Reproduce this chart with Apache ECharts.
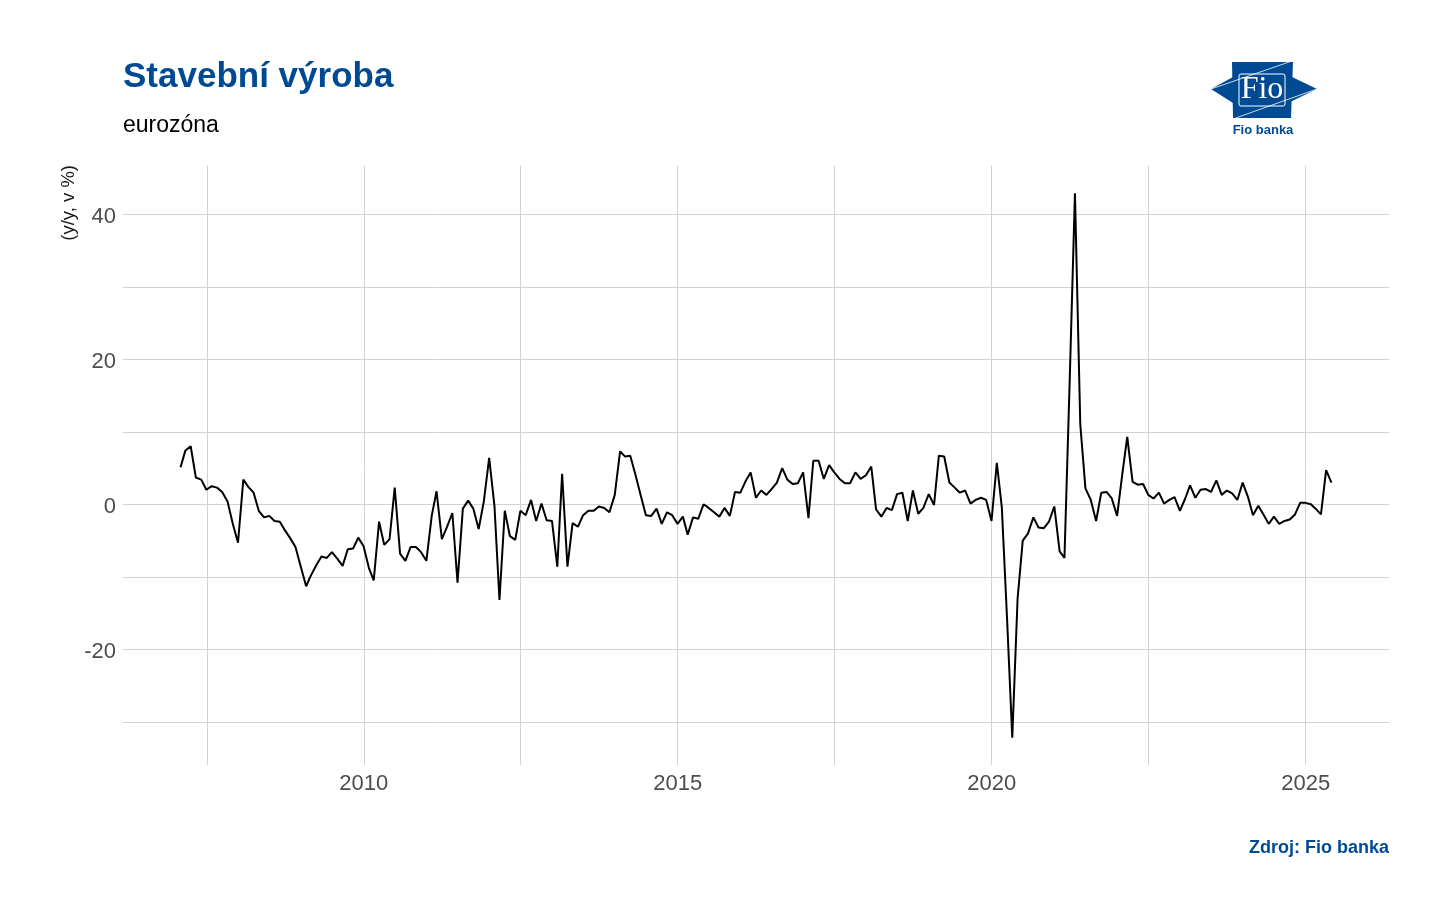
<!DOCTYPE html>
<html>
<head>
<meta charset="utf-8">
<script src="https://cdn.jsdelivr.net/npm/echarts@6/dist/echarts.min.js"></script>
<style>
html,body{margin:0;padding:0;background:#fff;}
#chart{width:1449px;height:916px;}
</style>
</head>
<body>
<div id="chart"></div>
<script>
// Monthly y/y change (%), euro area construction output, Jan 2007 – May 2025
const v2007 = [5.1, 7.4, 8.0, 3.7, 3.4, 2.0, 2.5, 2.3, 1.7, 0.4, -2.6, -5.3];
const v2008 = [3.4, 2.4, 1.6, -0.9, -1.8, -1.6, -2.3, -2.4, -3.6, -4.7, -5.9, -8.6];
const v2009 = [-11.3, -9.8, -8.4, -7.2, -7.4, -6.6, -7.5, -8.5, -6.2, -6.1, -4.6, -5.8];
const v2010 = [-8.8, -10.5, -2.4, -5.6, -4.8, 2.3, -6.8, -7.8, -5.9, -5.9, -6.6, -7.8];
const v2011 = [-1.6, 1.8, -4.8, -3.1, -1.2, -10.8, -0.6, 0.5, -0.6, -3.4, 0.4, 6.4];
const v2012 = [-0.3, -13.2, -0.9, -4.4, -4.9, -0.9, -1.5, 0.6, -2.3, 0.1, -2.2, -2.3];
const v2013 = [-8.6, 4.2, -8.6, -2.6, -3.1, -1.5, -0.9, -0.9, -0.3, -0.5, -1.1, 1.3];
const v2014 = [7.3, 6.6, 6.7, 4.1, 1.2, -1.5, -1.6, -0.6, -2.7, -1.1, -1.5, -2.7];
const v2015 = [-1.7, -4.2, -1.8, -2.0, 0.0, -0.5, -1.1, -1.7, -0.5, -1.6, 1.7, 1.6];
const v2016 = [3.2, 4.4, 0.9, 1.9, 1.3, 2.1, 3.0, 5.0, 3.4, 2.8, 2.9, 4.4];
const v2017 = [-1.9, 6.0, 6.0, 3.5, 5.4, 4.4, 3.5, 2.9, 2.9, 4.4, 3.5, 4.0];
const v2018 = [5.2, -0.7, -1.7, -0.5, -0.8, 1.4, 1.6, -2.3, 1.9, -1.3, -0.5, 1.4];
const v2019 = [-0.1, 6.7, 6.6, 3.0, 2.3, 1.6, 1.9, 0.1, 0.6, 0.9, 0.6, -2.3];
const v2020 = [5.7, -0.4, -16.0, -32.2, -13.0, -5.0, -4.0, -1.8, -3.2, -3.3, -2.4, -0.3];
const v2021 = [-6.5, -7.4, 17.5, 42.9, 11.0, 2.2, 0.6, -2.3, 1.6, 1.7, 0.8, -1.6];
const v2022 = [4.3, 9.3, 3.1, 2.7, 2.8, 1.3, 0.8, 1.6, 0.1, 0.6, 1.0, -0.9];
const v2023 = [0.8, 2.6, 0.9, 2.0, 2.1, 1.7, 3.3, 1.3, 1.9, 1.5, 0.6, 3.0];
const v2024 = [1.0, -1.5, -0.2, -1.4, -2.7, -1.7, -2.7, -2.3, -2.1, -1.4, 0.2, 0.2];
const v2025 = [0.0, -0.6, -1.4, 4.7, 3.0];

const years = [2007,2008,2009,2010,2011,2012,2013,2014,2015,2016,2017,2018,2019,2020,2021,2022,2023,2024,2025];
const yearValues = [v2007,v2008,v2009,v2010,v2011,v2012,v2013,v2014,v2015,v2016,v2017,v2018,v2019,v2020,v2021,v2022,v2023,v2024,v2025];

const xLabelValues = [2010, 2015, 2020, 2025];
const xGridValues = [2007.5, 2010, 2012.5, 2015, 2017.5, 2020, 2022.5, 2025];
const yLabelValues = [-20, 0, 20, 40];
const yGridValues = [-30, -20, -10, 0, 10, 20, 30, 40];

// end-of-month date as decimal year
function endOfMonth(y, m) {
  const d = Date.UTC(y, m + 1, 0);
  const s = Date.UTC(y, 0, 1), e = Date.UTC(y + 1, 0, 1);
  return y + (d - s) / (e - s);
}
const data = [];
years.forEach((y, k) => yearValues[k].forEach((v, m) => data.push([endOfMonth(y, m), v])));

const xs = data.map(d => d[0]), ys = data.map(d => d[1]);
const xMin = Math.min(...xs), xMax = Math.max(...xs);
const yMin = Math.min(...ys), yMax = Math.max(...ys);
const xPad = (xMax - xMin) * 0.05, yPad = (yMax - yMin) * 0.05;

const BLUE = '#004A94';
const FONT = 'Liberation Sans, Arial, sans-serif';

const chart = echarts.init(document.getElementById('chart'), null, {renderer: 'canvas'});
chart.setOption({
  backgroundColor: '#ffffff',
  animation: false,
  title: [
    {text: 'Stavební výroba', left: 118, top: 55,
     textStyle: {fontFamily: FONT, fontSize: 35, fontWeight: 'bold', color: BLUE}},
    {text: 'eurozóna', left: 118, top: 109,
     textStyle: {fontFamily: FONT, fontSize: 23, fontWeight: 'normal', color: '#000'}}
  ],
  grid: {left: 123, right: 60, top: 166, bottom: 151, containLabel: false},
  xAxis: {
    type: 'value', min: xMin - xPad, max: xMax + xPad,
    axisLine: {show: false},
    axisTick: {show: false, customValues: xGridValues},
    axisLabel: {customValues: xLabelValues, formatter: v => String(Math.round(v)),
      fontFamily: FONT, fontSize: 22, color: '#4D4D4D', margin: 8},
    splitLine: {show: true, lineStyle: {color: '#D2D2D2', width: 1}}
  },
  yAxis: {
    type: 'value', min: yMin - yPad, max: yMax + yPad,
    axisLine: {show: false},
    axisTick: {show: false, customValues: yGridValues},
    axisLabel: {customValues: yLabelValues, formatter: v => '{a|' + String(v) + '}',
      margin: 7,
      rich: {a: {fontFamily: FONT, fontSize: 22, color: '#4D4D4D', padding: [6, 0, 0, 0]}}},
    splitLine: {show: true, lineStyle: {color: '#D2D2D2', width: 1}}
  },
  series: [{
    type: 'line', data: data, showSymbol: false, symbol: 'none',
    lineStyle: {color: '#000', width: 2}, clip: false
  }],
  graphic: [
    {type: 'text', left: 59, top: 165, rotation: Math.PI / 2,
     style: {text: '(y/y, v %)', font: '18.5px ' + FONT, fill: '#1A1A1A'}},
    {type: 'text', right: 60, top: 839,
     style: {text: 'Zdroj: Fio banka', font: 'bold 18px ' + FONT, fill: BLUE}},
    // Fio banka logo
    {type: 'polygon', shape: {points: [[1232,62],[1293,62],[1291,118],[1233,118]]}, style: {fill: BLUE}},
    {type: 'polygon', shape: {points: [[1233,77],[1211,89],[1233,103]]}, style: {fill: BLUE}},
    {type: 'polygon', shape: {points: [[1290,76],[1317,89],[1290,102]]}, style: {fill: BLUE}},
    {type: 'polyline', shape: {points: [[1211,89],[1292,61]]}, style: {stroke: '#fff', lineWidth: 0.8}},
    {type: 'polyline', shape: {points: [[1317,89],[1233,119]]}, style: {stroke: '#fff', lineWidth: 0.8}},
    {type: 'rect', shape: {x: 1239, y: 74, width: 46, height: 32, r: 2}, style: {fill: 'none', stroke: '#fff', lineWidth: 1}},
    {type: 'text', x: 1262, y: 90,
     style: {text: 'Fio', font: '32px Liberation Serif, DejaVu Serif, serif', fill: '#fff', align: 'center', verticalAlign: 'middle'}},
    {type: 'text', x: 1263, y: 130,
     style: {text: 'Fio banka', font: 'bold 13px ' + FONT, fill: BLUE, align: 'center', verticalAlign: 'middle'}}
  ]
});
</script>
</body>
</html>
